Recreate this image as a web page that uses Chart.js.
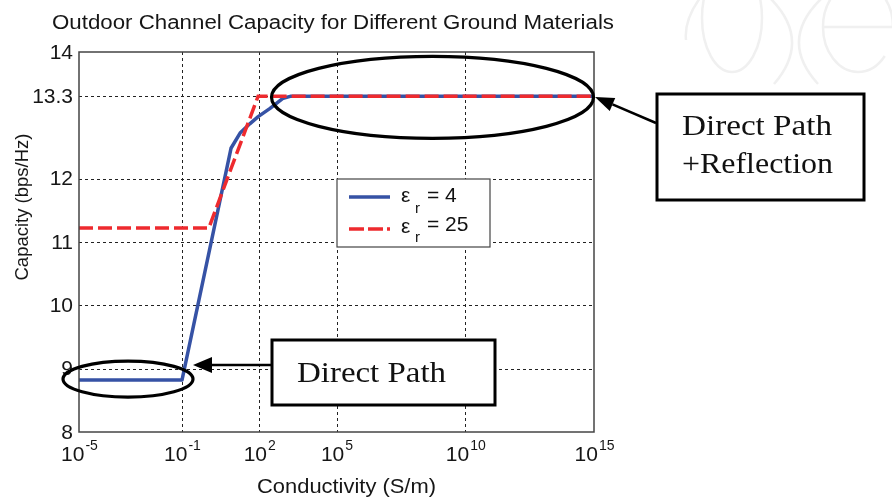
<!DOCTYPE html>
<html lang="en">
<head>
<meta charset="UTF-8" />
<title>Outdoor Channel Capacity</title>
<script src="https://cdn.jsdelivr.net/npm/chart.js"></script>
<style>
  body { margin: 0; background: #fff; }
  .wrap { position: relative; width: 892px; height: 500px; }
</style>
</head>
<body>
<div class="wrap"><canvas id="capChart"></canvas></div>
<script>
  // values: conductivity (S/m) -> capacity (bps/Hz)
  const er4Cond  = [1e-5, 0.1, 8, 18, 44, 91, 263, 850, 1600, 1e15];
  const er4Cap   = [8.82, 8.82, 12.48, 12.72, 12.87, 12.98, 13.11, 13.27, 13.3, 13.3];
  const er25Cond = [1e-5, 1.1, 90, 1e15];
  const er25Cap  = [11.22, 11.22, 13.3, 13.3];

  const xTicks = [1e-5, 1e-1, 1e2, 1e5, 1e10, 1e15];
  const xTickExp = ['-5', '-1', '2', '5', '10', '15'];
  const yTicks = [8, 9, 10, 11, 12, 13.3, 14];
  const yTickLabels = ['8', '9', '10', '11', '12', '13.3', '14'];

  const seriesSub = ['4', '25'];
  const seriesColors = ['#3652a5', '#ee2a2e'];

  const titleText = 'Outdoor Channel Capacity for Different Ground Materials';
  const SANS = '"Liberation Sans", Arial, sans-serif';
  const SERIF = '"Liberation Serif", "DejaVu Serif", serif';

  // text squeezed/stretched to a given width
  function fitText(ctx, txt, x, y, w, font, align) {
    ctx.save();
    ctx.font = font;
    const k = w / ctx.measureText(txt).width;
    ctx.translate(x, y);
    ctx.scale(k, 1);
    ctx.textAlign = align;
    ctx.fillText(txt, 0, 0);
    ctx.restore();
  }

  function arrow(ctx, x0, y0, x1, y1, len, half) {
    const a = Math.atan2(y1 - y0, x1 - x0);
    const bx = x1 - len * Math.cos(a), by = y1 - len * Math.sin(a);
    ctx.beginPath(); ctx.moveTo(x0, y0); ctx.lineTo(bx, by); ctx.stroke();
    ctx.beginPath();
    ctx.moveTo(x1, y1);
    ctx.lineTo(bx + half * Math.sin(a), by - half * Math.cos(a));
    ctx.lineTo(bx - half * Math.sin(a), by + half * Math.cos(a));
    ctx.closePath(); ctx.fill();
  }

  const figureDecor = {
    id: 'figureDecor',
    beforeDraw(chart) {
      const ctx = chart.ctx;
      ctx.save();
      ctx.fillStyle = '#fff';
      ctx.fillRect(0, 0, chart.width, chart.height);
      // faint publisher watermark, top right
      ctx.strokeStyle = '#f0f0f0';
      ctx.lineWidth = 2.5;
      ctx.beginPath(); ctx.ellipse(732, 18, 30, 54, 0, 0, Math.PI * 2); ctx.stroke();
      ctx.beginPath(); ctx.moveTo(770, -2); ctx.quadraticCurveTo(812, 40, 774, 84); ctx.stroke();
      ctx.beginPath(); ctx.moveTo(822, -2); ctx.quadraticCurveTo(778, 40, 818, 84); ctx.stroke();
      ctx.beginPath(); ctx.ellipse(858, 27, 35, 45, 0, 0, 0.7, true); ctx.stroke();
      ctx.beginPath(); ctx.moveTo(824, 27); ctx.lineTo(892, 27); ctx.stroke();
      ctx.beginPath(); ctx.moveTo(700, -2); ctx.quadraticCurveTo(684, 20, 686, 40); ctx.stroke();
      ctx.restore();
    },
    beforeDatasetsDraw(chart) {
      const { ctx, chartArea: a, scales: { x, y } } = chart;
      ctx.save();
      ctx.strokeStyle = '#222';
      ctx.lineWidth = 1;
      ctx.setLineDash([3, 3]);
      xTicks.forEach(v => {
        const px = Math.round(x.getPixelForValue(v)) + 0.5;
        if (px <= a.left + 1 || px >= a.right - 1) return;
        ctx.beginPath(); ctx.moveTo(px, a.top); ctx.lineTo(px, a.bottom); ctx.stroke();
      });
      yTicks.forEach(v => {
        const py = Math.round(y.getPixelForValue(v)) + 0.5;
        if (py <= a.top + 1 || py >= a.bottom - 1) return;
        ctx.beginPath(); ctx.moveTo(a.left, py); ctx.lineTo(a.right, py); ctx.stroke();
      });
      ctx.restore();
    },
    afterDatasetsDraw(chart) {
      const { ctx, chartArea: a, scales: { x, y } } = chart;
      ctx.save();
      // axes box
      ctx.strokeStyle = '#444';
      ctx.lineWidth = 1.5;
      ctx.strokeRect(a.left, a.top, a.right - a.left, a.bottom - a.top);

      ctx.fillStyle = '#161616';
      // y tick labels
      ctx.font = '21px ' + SANS;
      ctx.textAlign = 'right';
      ctx.textBaseline = 'middle';
      yTicks.forEach((v, i) => ctx.fillText(yTickLabels[i], a.left - 6, y.getPixelForValue(v) + 1));

      // x tick labels, 10 with a raised exponent
      ctx.textBaseline = 'alphabetic';
      ctx.textAlign = 'left';
      xTicks.forEach((v, i) => {
        ctx.font = '21px ' + SANS;
        const wb = ctx.measureText('10').width;
        ctx.font = '14px ' + SANS;
        const we = ctx.measureText(xTickExp[i]).width;
        const left = x.getPixelForValue(v) - (wb + we) / 2;
        ctx.font = '21px ' + SANS;
        ctx.fillText('10', left, 461);
        ctx.font = '14px ' + SANS;
        ctx.fillText(xTickExp[i], left + wb + 1, 450);
      });

      // titles
      fitText(ctx, titleText, 333, 29, 562, '20px ' + SANS, 'center');
      fitText(ctx, 'Conductivity (S/m)', 346.5, 493, 179, '21px ' + SANS, 'center');
      ctx.save();
      ctx.translate(28, 207);
      ctx.rotate(-Math.PI / 2);
      fitText(ctx, 'Capacity (bps/Hz)', 0, 0, 147, '18.5px ' + SANS, 'center');
      ctx.restore();

      // legend
      ctx.fillStyle = '#fff';
      ctx.fillRect(337, 179, 153, 68);
      ctx.strokeStyle = '#444';
      ctx.lineWidth = 1.2;
      ctx.strokeRect(337, 179, 153, 68);
      const rows = [197, 229];
      seriesSub.forEach((s, i) => {
        ctx.strokeStyle = seriesColors[i];
        ctx.lineWidth = 3.5;
        ctx.setLineDash(i === 1 ? [15, 4] : []);
        ctx.beginPath(); ctx.moveTo(349, rows[i]); ctx.lineTo(390, rows[i]); ctx.stroke();
        ctx.setLineDash([]);
        ctx.fillStyle = '#111';
        const base = rows[i] + (i === 0 ? 5 : 2);
        ctx.font = '21px ' + SANS;
        ctx.fillText('\u03b5', 401, base + (i === 0 ? 0 : 2));
        ctx.font = '15px ' + SANS;
        ctx.fillText('r', 415, base + 11);
        ctx.font = '21px ' + SANS;
        ctx.fillText('= ' + s, 427, base);
      });

      // annotations
      ctx.strokeStyle = '#000';
      ctx.fillStyle = '#000';
      ctx.lineWidth = 3.2;
      ctx.beginPath();
      ctx.ellipse(432.5, y.getPixelForValue(13.3) + 1, 161, 41, 0, 0, Math.PI * 2);
      ctx.stroke();
      ctx.beginPath();
      ctx.ellipse(128, y.getPixelForValue(8.82) - 1, 65, 18, 0, 0, Math.PI * 2);
      ctx.stroke();

      ctx.lineWidth = 2.5;
      arrow(ctx, 656, 123, 595, 97, 19, 7);
      arrow(ctx, 272, 365, 193, 365, 19, 8);

      ctx.lineWidth = 3;
      ctx.fillStyle = '#fff';
      ctx.fillRect(657, 94, 207, 106);
      ctx.strokeRect(657, 94, 207, 106);
      ctx.fillRect(272, 340, 223, 65);
      ctx.strokeRect(272, 340, 223, 65);

      ctx.fillStyle = '#111';
      fitText(ctx, 'Direct Path', 682, 135, 150, '30px ' + SERIF, 'left');
      fitText(ctx, '+Reflection', 682, 173, 151, '30px ' + SERIF, 'left');
      fitText(ctx, 'Direct Path', 297, 382, 149, '30px ' + SERIF, 'left');
      ctx.restore();
    }
  };

  const ctx = document.getElementById('capChart').getContext('2d');
  new Chart(ctx, {
    type: 'line',
    data: {
      datasets: [
        {
          label: '\u03b5r = ' + seriesSub[0],
          data: er4Cond.map((c, i) => ({ x: c, y: er4Cap[i] })),
          borderColor: seriesColors[0],
          borderWidth: 3.5,
          borderJoinStyle: 'round',
          pointRadius: 0,
          tension: 0,
          order: 1
        },
        {
          label: '\u03b5r = ' + seriesSub[1],
          data: er25Cond.map((c, i) => ({ x: c, y: er25Cap[i] })),
          borderColor: seriesColors[1],
          borderWidth: 3.5,
          borderDash: [14, 5],
          pointRadius: 0,
          tension: 0,
          order: 0
        }
      ]
    },
    options: {
      responsive: true,
      maintainAspectRatio: false,
      animation: false,
      layout: { padding: { left: 79, right: 298, top: 52, bottom: 68 } },
      plugins: {
        legend: { display: false },
        tooltip: { enabled: false },
        title: { display: false }
      },
      scales: {
        x: { type: 'logarithmic', min: 1e-5, max: 1e15, display: false },
        y: { type: 'linear', min: 8, max: 14, display: false }
      }
    },
    plugins: [figureDecor]
  });
</script>
</body>
</html>
